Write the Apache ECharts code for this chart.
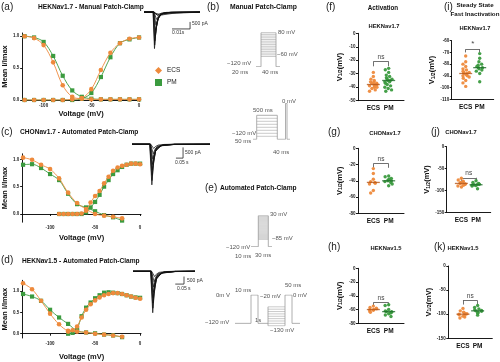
<!DOCTYPE html>
<html><head><meta charset="utf-8">
<script src="https://cdn.jsdelivr.net/npm/echarts@6/dist/echarts.min.js"></script>
<style>html,body{margin:0;padding:0;background:#fff}#c{width:500px;height:362px}</style>
</head><body><div id="c"></div>
<script>
const ORANGE = '#EE8A3C', GREEN = '#3B9B3F';
const ORANGE_D = '#B3561A', GREEN_D = '#1E6B2A';
const FONT = 'Liberation Sans, Arial, sans-serif';

// ---------- (a) HEKNav1.7 manual ----------
const voltA = [-120,-110,-100,-90,-80,-70,-60,-50,-40,-30,-20,-10,0];
const ecsInactA = [1.0,0.97,0.86,0.59,0.23,0.05,0.02,0.01,0.01,0.01,0.01,0.01,0.01];
const pmInactA  = [1.0,0.98,0.91,0.69,0.38,0.15,0.05,0.02,0.01,0.01,0.01,0.01,0.01];
const ecsActA   = [0.0,0.0,0.0,0.0,0.0,0.01,0.03,0.17,0.47,0.74,0.89,0.96,0.98];
const pmActA    = [0.0,0.0,0.0,0.0,0.0,0.0,0.02,0.11,0.36,0.67,0.89,0.95,0.98];

// ---------- (c) CHONav1.7 automated ----------
const voltInactC = [-130,-120,-110,-100,-90,-80,-70,-60,-50,-40,-30,-20];
const ecsInactC = [1.03,0.99,0.90,0.82,0.65,0.39,0.20,0.09,0.0,-0.03,-0.05,-0.08];
const pmInactC  = [0.90,0.91,0.84,0.73,0.62,0.37,0.18,0.12,0.05,-0.02,-0.06,-0.12];
const voltActC = [-90,-85,-80,-75,-70,-65,-60,-55,-50,-45,-40,-35,-30,-25,-20,-15,-10,-5,0];
const ecsActC = [0,0,0,0,0,0.01,0.06,0.21,0.33,0.42,0.56,0.68,0.79,0.85,0.88,0.90,0.92,0.92,0.91];
const pmActC  = [0,0,0,0,0,0,0.03,0.12,0.22,0.35,0.50,0.62,0.73,0.80,0.86,0.90,0.92,0.92,0.92];

// ---------- (d) HEKNav1.5 automated ----------
const voltInactD = [-130,-120,-110,-100,-90,-80,-70,-60,-50,-40,-30,-20];
const ecsInactD = [1.18,1.04,0.77,0.47,0.22,0.07,0.05,0.03,0.0,-0.02,-0.04,-0.07];
const pmInactD  = [0.93,0.87,0.77,0.56,0.38,0.23,0.07,0.03,0.01,-0.02,-0.04,-0.08];
const voltActD = [-80,-75,-70,-65,-60,-55,-50,-45,-40,-35,-30,-25,-20,-15,-10,-5,0];
const ecsActD = [0.05,0.08,0.17,0.38,0.56,0.69,0.78,0.85,0.90,0.93,0.95,0.95,0.93,0.90,0.87,0.84,0.82];
const pmActD  = [0.0,0.02,0.11,0.41,0.61,0.73,0.83,0.90,0.96,0.97,0.96,0.95,0.93,0.90,0.87,0.85,0.84];

// ---------- current trace insets (time, pA) ----------
const traceA = [
 [[0,0],[5.0,0],[5.8,-2600],[6.6,-1300],[7.6,-520],[9.5,-160],[13,-40],[31,0]],
 [[0,0],[5.1,0],[5.9,-2350],[6.7,-1200],[7.7,-480],[9.6,-150],[13,-35],[31,0]],
 [[0,0],[5.2,0],[6.0,-2050],[6.9,-1050],[7.9,-420],[9.8,-130],[13.5,-30],[31,0]],
 [[0,0],[5.3,0],[6.2,-1700],[7.1,-880],[8.2,-350],[10,-110],[14,-25],[31,0]],
 [[0,0],[5.4,0],[6.4,-1300],[7.3,-680],[8.5,-270],[10.5,-90],[14.5,-20],[31,0]],
 [[0,0],[5.5,0],[6.6,-900],[7.6,-480],[8.8,-200],[11,-70],[15,-15],[31,0]],
 [[0,0],[5.6,0],[6.9,-520],[8,-290],[9.3,-130],[11.5,-45],[16,-10],[31,0]],
 [[0,0],[5.8,0],[7.3,-220],[8.5,-130],[10,-60],[12.5,-20],[17,-5],[31,0]],
 [[0,0],[5.5,0],[6.3,-120],[8,-250],[11,-180],[16,-90],[22,-40],[31,-20]],
 [[0,0],[5.5,0],[6.3,-80],[8.5,-160],[12,-110],[18,-60],[25,-30],[31,-15]]
];
const traceC = [
 [[0,0],[0.125,0],[0.140,-1900],[0.150,-1000],[0.165,-350],[0.20,-80],[0.30,-10],[0.55,0]],
 [[0,0],[0.126,0],[0.141,-1700],[0.151,-900],[0.166,-320],[0.20,-70],[0.30,-10],[0.55,0]],
 [[0,0],[0.127,0],[0.142,-1450],[0.152,-780],[0.168,-270],[0.21,-60],[0.30,-8],[0.55,0]],
 [[0,0],[0.128,0],[0.143,-1200],[0.153,-650],[0.170,-220],[0.21,-50],[0.30,-6],[0.55,0]],
 [[0,0],[0.129,0],[0.145,-950],[0.155,-520],[0.172,-180],[0.22,-40],[0.30,-5],[0.55,0]],
 [[0,0],[0.130,0],[0.147,-700],[0.158,-390],[0.175,-140],[0.22,-30],[0.30,-4],[0.55,0]],
 [[0,0],[0.131,0],[0.150,-450],[0.161,-250],[0.180,-90],[0.23,-20],[0.30,-3],[0.55,0]],
 [[0,0],[0.132,0],[0.153,-200],[0.165,-110],[0.185,-40],[0.23,-10],[0.30,-2],[0.55,0]]
];
const traceD = [
 [[0,0],[0.125,0],[0.140,-2750],[0.150,-1500],[0.165,-550],[0.20,-130],[0.30,-20],[0.44,0]],
 [[0,0],[0.126,0],[0.141,-2450],[0.151,-1350],[0.166,-500],[0.20,-120],[0.30,-18],[0.44,0]],
 [[0,0],[0.127,0],[0.142,-2100],[0.152,-1150],[0.168,-430],[0.21,-100],[0.30,-15],[0.44,0]],
 [[0,0],[0.128,0],[0.143,-1750],[0.153,-960],[0.170,-360],[0.21,-85],[0.30,-12],[0.44,0]],
 [[0,0],[0.129,0],[0.145,-1400],[0.155,-770],[0.172,-290],[0.22,-70],[0.30,-10],[0.44,0]],
 [[0,0],[0.130,0],[0.147,-1050],[0.158,-580],[0.175,-220],[0.22,-50],[0.30,-8],[0.44,0]],
 [[0,0],[0.131,0],[0.150,-700],[0.161,-390],[0.180,-150],[0.23,-35],[0.30,-5],[0.44,0]],
 [[0,0],[0.132,0],[0.153,-350],[0.165,-200],[0.185,-75],[0.23,-18],[0.30,-3],[0.44,0]]
];
const scaleA = [[15.5,-1200],[25.5,-1200],[25.5,-700]];
const scaleC = [[0.31,-650],[0.36,-650],[0.36,-150]];
const scaleD = [[0.30,-850],[0.362,-850],[0.362,-350]];

// ---------- voltage protocols (schematic time units, mV) ----------
const protB1 = [[6,-120],[11,-120],[11,80],[26,80],[26,-120],[30,-120]];
const protB1Steps = [-60,-50,-40,-30,-20,-10,0,10,20,30,40,50,60,70];
const protB2 = [[3,-120],[6.7,-120],[6.7,-40],[27.3,-40],[27.3,-120],[35.5,-120],[35.5,0],[37,0],[37,-120],[40,-120]];
const protB2Steps = [-110,-100,-90,-80,-70,-60,-50];
const protE1 = [[1,-120],[8.3,-120],[8.3,30],[18.3,30],[18.3,-120],[22,-120]];
const protE1Steps = [-85,-80,-75,-70,-65,-60,-55,-50,-45,-40,-35,-30,-25,-20,-15,-10,-5,0,5,10,15,20,25];
const protE2a = [[5,-120],[21,-120],[21,0],[28,0],[28,-120],[38,-120]];
const protE2b = [[38,-130],[38,-50]];
const protE2c = [[55,-130],[55,0],[62,0],[62,-120],[70,-120]];
const protE2Steps = [-130,-120,-110,-100,-90,-80,-70,-60,-50];

// ---------- V1/2 dot plots (mV) ----------
const groups = ['', 'ECS', 'PM', ''];
const fECS = [-29,-32,-34,-35,-36,-36,-37,-37,-38,-38,-38,-39,-39,-40,-40,-41,-42,-43];
const fPM  = [-26,-27,-29,-31,-32,-33,-34,-34,-35,-35,-36,-36,-37,-38,-39,-40,-41,-42,-43];
const fMed = [-38,-35];
const gECS = [-25,-31,-38,-41,-42,-43,-44,-52,-55];
const gPM  = [-34,-35,-37,-38,-39,-40,-40,-41,-42,-44,-46];
const gMed = [-42,-40];
const hECS = [-55,-57,-58,-59,-60,-60,-61,-62,-64];
const hPM  = [-53,-54,-60,-62,-63,-63,-64,-65,-66,-68,-70];
const hMed = [-60,-63];
const iECS = [-73,-78,-80,-82,-84,-85,-86,-87,-87,-88,-88,-89,-90,-90,-91,-92,-94,-96,-99];
const iPM  = [-71,-75,-78,-80,-81,-82,-83,-83,-84,-85,-86,-88,-95];
const iMed = [-88,-83];
const jECS = [-72,-76,-79,-81,-82,-83,-84,-85,-86,-88,-90,-92];
const jPM  = [-78,-82,-84,-85,-86,-87,-87,-88,-89,-90,-96];
const jMed = [-84,-87];
const kECS = [-88,-93,-96,-98,-99,-100,-101,-102,-104,-106,-108];
const kPM  = [-82,-86,-89,-91,-92,-93,-94,-96,-98,-102];
const kMed = [-100,-93];
// brackets: [bar level, tick end level]
const fBr = [-21,-24.5], gBr = [-19,-24], hBr = [-50,-54], iBr = [-67.3,-70], jBr = [-71,-78], kBr = [-72,-80];

const option = {animation:false, grid:[], xAxis:[], yAxis:[], series:[], graphic:[]};
const addGrid = g => (option.grid.push(g), option.grid.length-1);
const addX = a => (option.xAxis.push(a), option.xAxis.length-1);
const addY = a => (option.yAxis.push(a), option.yAxis.length-1);
const axCol = {color:'#000', width:0.9};
const tickLbl = {fontSize:4.5, fontWeight:'bold', color:'#222', fontFamily:FONT};
const nameSty = {fontSize:7.5, fontWeight:'bold', color:'#111', fontFamily:FONT};

function ivPanel(box, xr, yr, xGap, sets){
  const gi = addGrid({left:box[0], top:box[1], width:box[2], height:box[3]});
  const xi = addX({gridIndex:gi, type:'value', min:xr[0], max:xr[1],
    axisLine:{onZero:true, lineStyle:axCol},
    axisTick:{customValues:[-100,-50,0], length:2, lineStyle:axCol},
    axisLabel:Object.assign({customValues:[-100,-50,0], margin:3}, tickLbl),
    splitLine:{show:false}, name:'Voltage (mV)', nameLocation:'middle', nameGap:xGap, nameTextStyle:nameSty});
  const yi = addY({gridIndex:gi, type:'value', min:yr[0], max:yr[1],
    axisLine:{show:true, onZero:false, lineStyle:axCol},
    axisTick:{show:true, customValues:[0,0.5,1], length:2, lineStyle:axCol},
    axisLabel:Object.assign({customValues:[0,0.5,1], margin:3, formatter:v=>v.toFixed(1)}, tickLbl),
    splitLine:{show:false}, name:'Mean I/Imax', nameLocation:'middle', nameGap:9, nameTextStyle:nameSty});
  sets.forEach(s => option.series.push({type:'line', name:s.name, xAxisIndex:xi, yAxisIndex:yi,
    data:s.y.map((v,i)=>[s.x[i], v]), smooth:0.35, symbol:s.name==='ECS'?'circle':'rect',
    symbolSize:s.name==='ECS'?4.6:4.2, showSymbol:true,
    itemStyle:{color:s.name==='ECS'?ORANGE:GREEN}, lineStyle:{color:s.name==='ECS'?ORANGE:GREEN, width:0.9},
    z:s.name==='ECS'?3:2}));
}

ivPanel([20,33,120,67], [-122.5,1], [0,1.05], 10, [
  {name:'PM', x:voltA, y:pmInactA}, {name:'PM', x:voltA, y:pmActA},
  {name:'ECS', x:voltA, y:ecsInactA}, {name:'ECS', x:voltA, y:ecsActA}]);
ivPanel([20,153.8,121,68.4], [-131,1], [-0.15,1.1], 12, [
  {name:'PM', x:voltInactC, y:pmInactC}, {name:'PM', x:voltActC, y:pmActC},
  {name:'ECS', x:voltInactC, y:ecsInactC}, {name:'ECS', x:voltActC, y:ecsActC}]);
ivPanel([20,280.3,121,61.6], [-131,1], [-0.1,1.25], 15, [
  {name:'PM', x:voltInactD, y:pmInactD}, {name:'PM', x:voltActD, y:pmActD},
  {name:'ECS', x:voltInactD, y:ecsInactD}, {name:'ECS', x:voltActD, y:ecsActD}]);

function hiddenGrid(box, xr, yr){
  const gi = addGrid({left:box[0], top:box[1], width:box[2], height:box[3]});
  const xi = addX({gridIndex:gi, type:'value', min:xr[0], max:xr[1], show:false});
  const yi = addY({gridIndex:gi, type:'value', min:yr[0], max:yr[1], show:false});
  return [xi, yi];
}
function polyLines(ax, list, color, width){
  option.series.push({type:'lines', coordinateSystem:'cartesian2d', xAxisIndex:ax[0], yAxisIndex:ax[1],
    polyline:true, silent:true, data:list.map(c=>({coords:c})),
    lineStyle:{color:color, width:width, opacity:1}});
}
// traces
let ax = hiddenGrid([144,10,56,40], [0,31], [-2700,150]);
polyLines(ax, traceA, '#111', 0.75); polyLines(ax, [scaleA], '#222', 0.8);
ax = hiddenGrid([132,141,78,46], [0,0.55], [-2000,150]);
polyLines(ax, traceC, '#111', 0.75); polyLines(ax, [scaleC], '#222', 0.8);
ax = hiddenGrid([133,269,62,46], [0,0.44], [-2900,150]);
polyLines(ax, traceD, '#111', 0.75); polyLines(ax, [scaleD], '#222', 0.8);

// protocols
const PCOL = '#9a9a9a', SCOL = '#bdbdbd';
ax = hiddenGrid([250,32.7,32,34], [0,32], [-120,80]);
polyLines(ax, protB1Steps.map(v=>[[11,v],[26,v]]), SCOL, 0.8); polyLines(ax, [protB1], PCOL, 0.8);
ax = hiddenGrid([250,103.3,42,36], [0,42], [-120,0]);
polyLines(ax, protB2Steps.map(v=>[[6.7,v],[27.3,v]]), SCOL, 0.8); polyLines(ax, [protB2], PCOL, 0.8);
ax = hiddenGrid([250,215.7,25,31], [0,25], [-120,30]);
polyLines(ax, protE1Steps.map(v=>[[8.3,v],[18.3,v]]), SCOL, 0.7); polyLines(ax, [protE1], PCOL, 0.8);
ax = hiddenGrid([230,295,72,31.9], [0,72], [-135,0]);
polyLines(ax, protE2Steps.map(v=>[[38,v],[55,v]]), SCOL, 0.8); polyLines(ax, [protE2a, protE2b, protE2c], PCOL, 0.8);

// dot plots
function dotPanel(box, yr, interval, ecs, pm, med, br, sig, nameGap){
  const gi = addGrid({left:box[0], top:box[1], width:box[2], height:box[3]});
  const xi = addX({gridIndex:gi, type:'category', data:groups, boundaryGap:false,
    jitter:8, jitterOverlap:false, jitterMargin:0.2,
    axisLine:{onZero:false, lineStyle:axCol}, axisTick:{show:false},
    axisLabel:{interval:0, fontSize:6.5, fontWeight:'bold', color:'#111', margin:4, fontFamily:FONT}});
  const xi2 = addX({gridIndex:gi, type:'category', data:groups, boundaryGap:false, show:false});
  const yi = addY({gridIndex:gi, type:'value', min:yr[0], max:yr[1], interval:interval,
    axisLine:{show:true, onZero:false, lineStyle:axCol},
    axisTick:{show:true, length:2, lineStyle:axCol},
    axisLabel:Object.assign({margin:2.5}, tickLbl), splitLine:{show:false},
    name:'{v|V}{s|1/2}{v|(mV)}', nameLocation:'middle', nameGap:nameGap,
    nameTextStyle:{rich:{v:{fontSize:7.5, fontWeight:'bold', fontFamily:FONT, color:'#111', padding:[0,0,2,0]},
                         s:{fontSize:5, fontWeight:'bold', fontFamily:FONT, color:'#111'}}}});
  option.series.push({type:'scatter', name:'ECS', xAxisIndex:xi, yAxisIndex:yi, data:ecs.map(v=>['ECS',v]),
    symbolSize:3.4, itemStyle:{color:ORANGE, opacity:0.95}});
  option.series.push({type:'scatter', name:'PM', xAxisIndex:xi, yAxisIndex:yi, data:pm.map(v=>['PM',v]),
    symbolSize:3.4, itemStyle:{color:GREEN, opacity:0.95}});
  option.series.push({type:'scatter', xAxisIndex:xi2, yAxisIndex:yi, data:[['ECS',med[0]]],
    symbol:'rect', symbolSize:[13,1.3], itemStyle:{color:ORANGE_D}, z:5, silent:true});
  option.series.push({type:'scatter', xAxisIndex:xi2, yAxisIndex:yi, data:[['PM',med[1]]],
    symbol:'rect', symbolSize:[13,1.3], itemStyle:{color:GREEN_D}, z:5, silent:true});
  option.series.push({type:'lines', coordinateSystem:'cartesian2d', xAxisIndex:xi2, yAxisIndex:yi, silent:true,
    lineStyle:{color:'#333', width:0.7, opacity:1},
    label:{show:false},
    data:[{coords:[[1,br[1]],[1,br[0]]]},
          {coords:[[1,br[0]],[2,br[0]]], label:{show:true, formatter:sig, position:'middle', fontSize:sig==='*'?8:6.5, color:'#444', fontFamily:FONT, distance:1}},
          {coords:[[2,br[0]],[2,br[1]]]}]});
}
dotPanel([358,33.3,46,67.4], [-50,0], 10, fECS, fPM, fMed, fBr, 'ns', 12);
dotPanel([358,148.3,46,65], [-80,0], 20, gECS, gPM, gMed, gBr, 'ns', 12);
dotPanel([358,268.3,46,55], [-80,0], 20, hECS, hPM, hMed, hBr, 'ns', 12);
dotPanel([451.7,40.7,42,58.6], [-110,-60], 10, iECS, iPM, iMed, iBr, '*', 12);
dotPanel([446.7,146.7,44,65.6], [-150,0], 50, jECS, jPM, jMed, jBr, 'ns', 12);
dotPanel([448.3,266,44,72.3], [-150,0], 50, kECS, kPM, kMed, kBr, 'ns', 12);

option.legend = {data:[{name:'ECS', icon:'diamond'},{name:'PM', icon:'rect'}], orient:'vertical',
  left:150, top:62, itemWidth:7, itemHeight:7, itemGap:5, selectedMode:false,
  textStyle:{fontSize:6.5, color:'#222', fontFamily:FONT}};

// static texts: [text, x, y, size, bold, align, color]
const texts = [
 ['(a)',1,7,10,0,'left','#222'], ['HEKNav1.7 - Manual Patch-Clamp',38,7,6.6,1,'left','#111'],
 ['(b)',207,7,10,0,'left','#222'], ['Manual Patch-Clamp',230,7,6.8,1,'left','#111'],
 ['(c)',1,132,10,0,'left','#222'], ['CHONav1.7 - Automated Patch-Clamp',20,132,6.6,1,'left','#111'],
 ['(d)',1,260,10,0,'left','#222'], ['HEKNav1.5 - Automated Patch-Clamp',22,261,6.6,1,'left','#111'],
 ['(e)',205,188,10,0,'left','#222'], ['Automated Patch-Clamp',220,188,6.6,1,'left','#111'],
 ['(f)',326,7,10,0,'left','#222'], ['Activation',383,8,6.3,1,'center','#111'], ['HEKNav1.7',384,26,5.8,1,'center','#111'],
 ['(i)',444,7,10,0,'left','#222'], ['Steady State',475,5,6.2,1,'center','#111'], ['Fast Inactivation',475,14,6.2,1,'center','#111'],
 ['HEKNav1.7',475,28,5.8,1,'center','#111'],
 ['(g)',328,132,10,0,'left','#222'], ['CHONav1.7',385,133,5.8,1,'center','#111'],
 ['(j)',431,132,10,0,'left','#222'], ['CHONav1.7',461,132,5.8,1,'center','#111'],
 ['(h)',328,247,10,0,'left','#222'], ['HEKNav1.5',386,248,5.8,1,'center','#111'],
 ['(k)',434,247,10,0,'left','#222'], ['HEKNav1.5',463,248,5.8,1,'center','#111'],
 ['500 pA',192,24,5,0,'left','#333'], ['0.01s',172,33,5,0,'left','#333'],
 ['500 pA',185,153,5,0,'left','#333'], ['0.05 s',175,162.5,5,0,'left','#333'],
 ['500 pA',187,281,5,0,'left','#333'], ['0.05 s',177,289,5,0,'left','#333'],
 ['80 mV',278,32,6,0,'left','#555'], ['\u221260 mV',277,54,6,0,'left','#555'],
 ['\u2212120 mV',227,63,6,0,'left','#555'], ['20 ms',232,72,6,0,'left','#555'], ['40 ms',262,72,6,0,'left','#555'],
 ['0 mV',282,101,6,0,'left','#555'], ['500 ms',253,110.5,6,0,'left','#555'],
 ['\u2212120 mV',232,133,6,0,'left','#555'], ['50 ms',235,141.5,6,0,'left','#555'], ['40 ms',273,152.5,6,0,'left','#555'],
 ['30 mV',270,214,6,0,'left','#555'], ['\u221285 mV',272,238,6,0,'left','#555'],
 ['\u2212120 mV',226,247.5,6,0,'left','#555'], ['10 ms',235,256,6,0,'left','#555'], ['30 ms',255,255,6,0,'left','#555'],
 ['0m V',216,295.5,6,0,'left','#555'], ['10 ms',235,290,6,0,'left','#555'], ['50 ms',285,285,6,0,'left','#555'],
 ['\u221220 mV',260,296.5,6,0,'left','#555'], ['0 mV',293,295.5,6,0,'left','#555'], ['1s',255,320,6,0,'left','#555'],
 ['\u2212130 mV',270,330,6,0,'left','#555'], ['\u2212120 mV',205,322,6,0,'left','#555']
];
option.graphic = texts.map(t => ({type:'text', x:t[1], y:t[2], silent:true,
  style:{text:t[0], fontSize:t[3], fontWeight:t[4]?'bold':'normal', fontFamily:FONT, fill:t[6], align:t[5], verticalAlign:'middle'}}));

const chart = echarts.init(document.getElementById('c'), null, {renderer:'canvas'});
chart.setOption(option);
</script>
</body></html>
